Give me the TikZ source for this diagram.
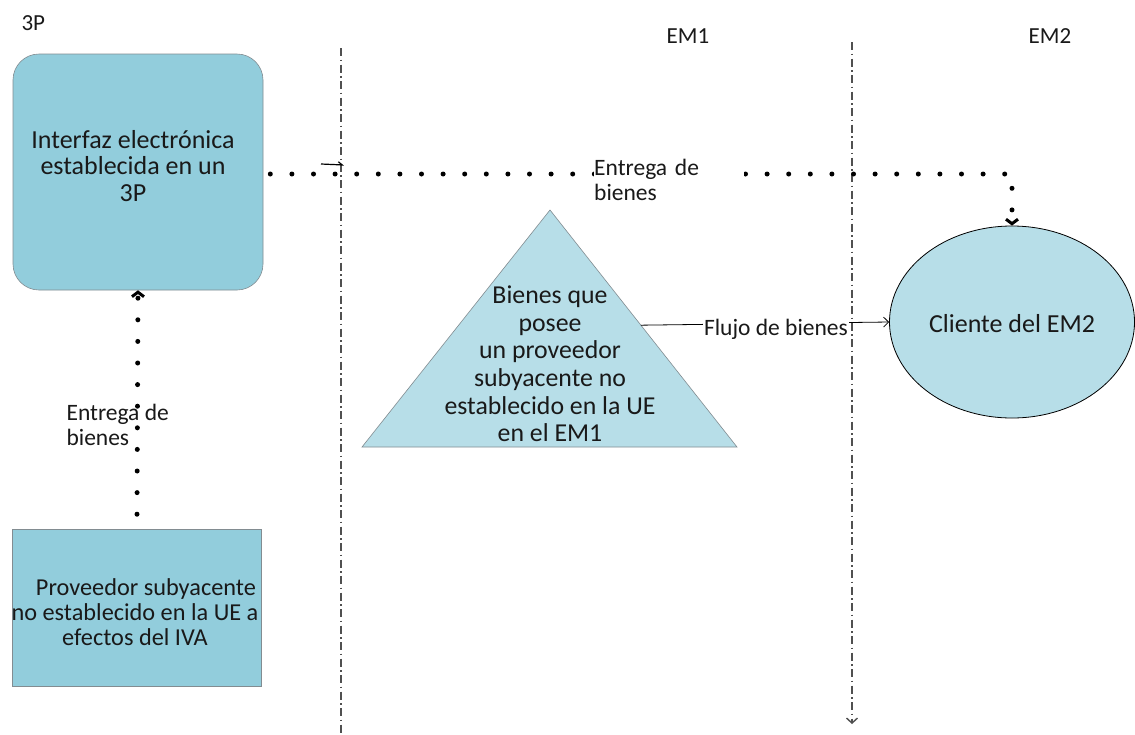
\documentclass[tikz,border=0pt]{standalone}
\usepackage{fontspec}
\setmainfont{Carlito}
\usetikzlibrary{arrows.meta,shapes.geometric,calc}
\definecolor{boxfill}{RGB}{146,205,220}
\definecolor{lightfill}{RGB}{183,222,232}
\definecolor{boxline}{RGB}{130,140,145}
\definecolor{txt}{RGB}{25,25,25}
\definecolor{divline}{RGB}{80,80,80}
\tikzset{
  main/.style={font=\fontsize{26}{26.5}\selectfont, text=txt, align=center},
  lbl/.style={font=\fontsize{23.5}{25}\selectfont, text=txt},
  head/.style={font=\fontsize{23}{26}\selectfont, text=txt},
  dotconn/.style={line width=5pt, line cap=round, dash pattern=on 0pt off 21.6pt, black},
  dottip/.style={-{Straight Barb[length=4.5pt,width=12pt,line width=3pt]}},
  divider/.style={divline, line width=1.4pt, dash pattern=on 8pt off 3.5pt on 1.5pt off 3.5pt},
  flow/.style={black, line width=0.8pt, -{Straight Barb[length=5pt,width=10pt]}}
}
\begin{document}
\begin{tikzpicture}[x=1pt,y=-1pt]
\useasboundingbox (0,0) rectangle (1135,734);
\fill[white] (0,0) rectangle (1135,734);

% headings
\node[head, anchor=west] (h3p) at (18,23) {3P};
\node[head] (hem1) at (688,36) {EM1};
\node[head] (hem2) at (1050,36) {EM2};

% divider lines
\draw[divider] (341,48) -- (341,734);
\draw[divider, -{Straight Barb[length=5pt,width=11pt,line width=1.4pt]}] (852,42) -- (852,724);

% rounded box
\node[draw=boxline, line width=0.6pt, fill=boxfill, rounded corners=26pt,
      minimum width=250pt, minimum height=236pt, inner sep=0pt] (box1) at (138,172) {};
\node[main] (box1txt) at (133,166) {Interfaz electrónica\\establecida en un\\3P};

% bottom box
\node[draw=boxline, line width=0.6pt, fill=boxfill,
      minimum width=249pt, minimum height=157pt, inner sep=0pt] (box2) at (137,608) {};
\node[main, font=\fontsize{24.3}{25}\selectfont] (box2txt) at (135,612)
  {\hspace*{0.9em}Proveedor subyacente\\no establecido en la UE a\\efectos del IVA};

% triangle
\coordinate (ta) at (550,210);
\coordinate (tl) at (362,447);
\coordinate (tr) at (737,447);
\fill[lightfill] (ta) -- (tr) -- (tl) -- cycle;
\draw[boxline, line width=0.6pt] (ta) -- (tr) -- (tl) -- cycle;
\node[main, font=\fontsize{25.8}{27.6}\selectfont] (tritxt) at (550,364)
  {Bienes que\\posee\\un proveedor\\subyacente no\\establecido en la UE\\en el EM1};
\coordinate (triR) at ($(ta)!0.486!(tr)$);

% ellipse
\node[ellipse, draw=black, line width=0.8pt, fill=lightfill,
      minimum width=245pt, minimum height=192pt, inner sep=0pt] (ell) at (1012,322) {};
\node[main] (elltxt) at (1012,324) {Cliente del EM2};

% flow of goods
\draw[flow] (triR) -- (ell.west);
\node[lbl, fill=white, inner sep=1pt] (flowlbl) at (776,329) {Flujo de bienes};

% dotted delivery: box1 -> ellipse
\coordinate (corner) at (1012,174);
\draw[dotconn, dottip] ($(box1.east)+(7,2)$) -- (corner) -- (ell.north);
\node[lbl, fill=white, anchor=north west, inner sep=0pt, text width=150pt, align=left]
  (toplbl) at (594,159) {Entrega de\\bienes};

% small tick near first divider
\coordinate (tickA) at (321,164);
\coordinate (tickB) at (344,165);
\draw[black, line width=1.2pt, -{Straight Barb[harpoon,length=4pt,width=6pt]}] (tickA) -- (tickB);

% dotted delivery: box2 -> box1
\draw[dotconn, dottip] ($(box2.north)+(0,-15)$) -- (box1.south);
\node[lbl, anchor=west, align=left] (leftlbl) at (63,425) {Entrega de\\bienes};
\end{tikzpicture}
\end{document}
